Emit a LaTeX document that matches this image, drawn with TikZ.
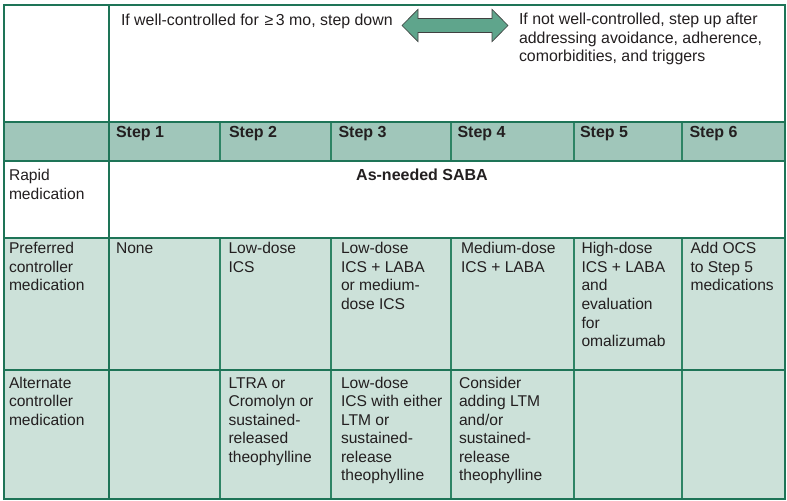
\documentclass[tikz,border=0pt]{standalone}
\usepackage{fontspec}
\setmainfont{Liberation Sans}
\definecolor{gridgreen}{HTML}{1E7457}
\definecolor{colgreen}{HTML}{2E8465}
\definecolor{hdrfill}{HTML}{A0C6BA}
\definecolor{bodyfill}{HTML}{CCE1D9}
\definecolor{arrowfill}{HTML}{5FA58C}
\definecolor{txt}{HTML}{231F20}
\newcommand{\ctext}[2][140bp]{\parbox[t]{#1}{\raggedright\fontsize{15.6bp}{18.5bp}\selectfont #2}}
\newcommand{\btext}[1]{\parbox[t]{140bp}{\raggedright\fontsize{16bp}{18.5bp}\selectfont\bfseries #1}}
\tikzset{
  celltext/.style={anchor=base west, inner sep=0pt, outer sep=0pt, text=txt},
  rowline/.style={draw=gridgreen, line width=1.8bp},
  colline/.style={draw=colgreen, line width=1.3bp},
  bigarrow/.style={fill=arrowfill, draw=black!75, line width=0.6bp, line join=miter}
}
\begin{document}
\begin{tikzpicture}[x=1bp, y=-1bp]
\useasboundingbox (0,0) rectangle (787,501);
% fills
\fill[white] (4,5) rectangle (785,499);
\fill[hdrfill] (4,122) rectangle (785,161);
\fill[bodyfill] (4,238) rectangle (785,499);
% column lines
\foreach \cx in {220,331,451,574,682} {
  \draw[colline] (\cx,122) -- (\cx,161);
  \draw[colline] (\cx,238) -- (\cx,499);
}
% row lines
\foreach \ry in {122,161,238,370} {
  \draw[rowline] (4,\ry) -- (785,\ry);
}
\draw[rowline] (109,5) -- (109,499);
\draw[rowline] (4,5) rectangle (785,499);
% arrow
\draw[bigarrow] (402,25.5) -- (418,9.3) -- (418,18.5) -- (492,18.5) -- (492,9.3) -- (508,25.5)
  -- (492,41.7) -- (492,32.5) -- (418,32.5) -- (418,41.7) -- cycle;
% top texts
\node[celltext] (down) at (121,26) {\ctext[300bp]{\fontsize{15.9bp}{18.5bp}\selectfont If well-controlled for \kern1.5bp≥\kern2.5bp3 mo, step down}};
\node[celltext] (up) at (519,25) {\ctext[265bp]{\fontsize{15.9bp}{18.5bp}\selectfont If not well-controlled, step up after\\addressing avoidance, adherence,\\comorbidities, and triggers}};
% header
\node[celltext] (s1) at (116,138) {\btext{Step 1}};
\node[celltext] (s2) at (229,138) {\btext{Step 2}};
\node[celltext] (s3) at (338.5,138) {\btext{Step 3}};
\node[celltext] (s4) at (457.5,138) {\btext{Step 4}};
\node[celltext] (s5) at (580,138) {\btext{Step 5}};
\node[celltext] (s6) at (689.5,138) {\btext{Step 6}};
% rapid row
\node[celltext] (rapid) at (9,181) {\ctext{Rapid\\medication}};
\node[anchor=base, inner sep=0pt, text=txt, font=\fontsize{16bp}{18.5bp}\selectfont\bfseries] (saba) at (422,181) {As-needed SABA};
% preferred row
\node[celltext] (pref) at (9,254) {\ctext{Preferred\\controller\\medication}};
\node[celltext] (p1) at (116,254) {\ctext{None}};
\node[celltext] (p2) at (228.5,254) {\ctext{Low-dose\\ICS}};
\node[celltext] (p3) at (341,254) {\ctext{Low-dose\\ICS + LABA\\or medium-\\dose ICS}};
\node[celltext] (p4) at (461,254) {\ctext{Medium-dose\\ICS + LABA}};
\node[celltext] (p5) at (581.5,254) {\ctext{High-dose\\ICS + LABA\\and\\evaluation\\for\\omalizumab}};
\node[celltext] (p6) at (690.5,254) {\ctext{Add OCS\\to Step 5\\medications}};
% alternate row
\node[celltext] (alt) at (9,388) {\ctext{Alternate\\controller\\medication}};
\node[celltext] (a2) at (228.5,388) {\ctext{LTRA or\\Cromolyn or\\sustained-\\released\\theophylline}};
\node[celltext] (a3) at (341,388) {\ctext{Low-dose\\ICS with either\\LTM or\\sustained-\\release\\theophylline}};
\node[celltext] (a4) at (459,388) {\ctext{Consider\\adding LTM\\and/or\\sustained-\\release\\theophylline}};
\end{tikzpicture}
\end{document}
